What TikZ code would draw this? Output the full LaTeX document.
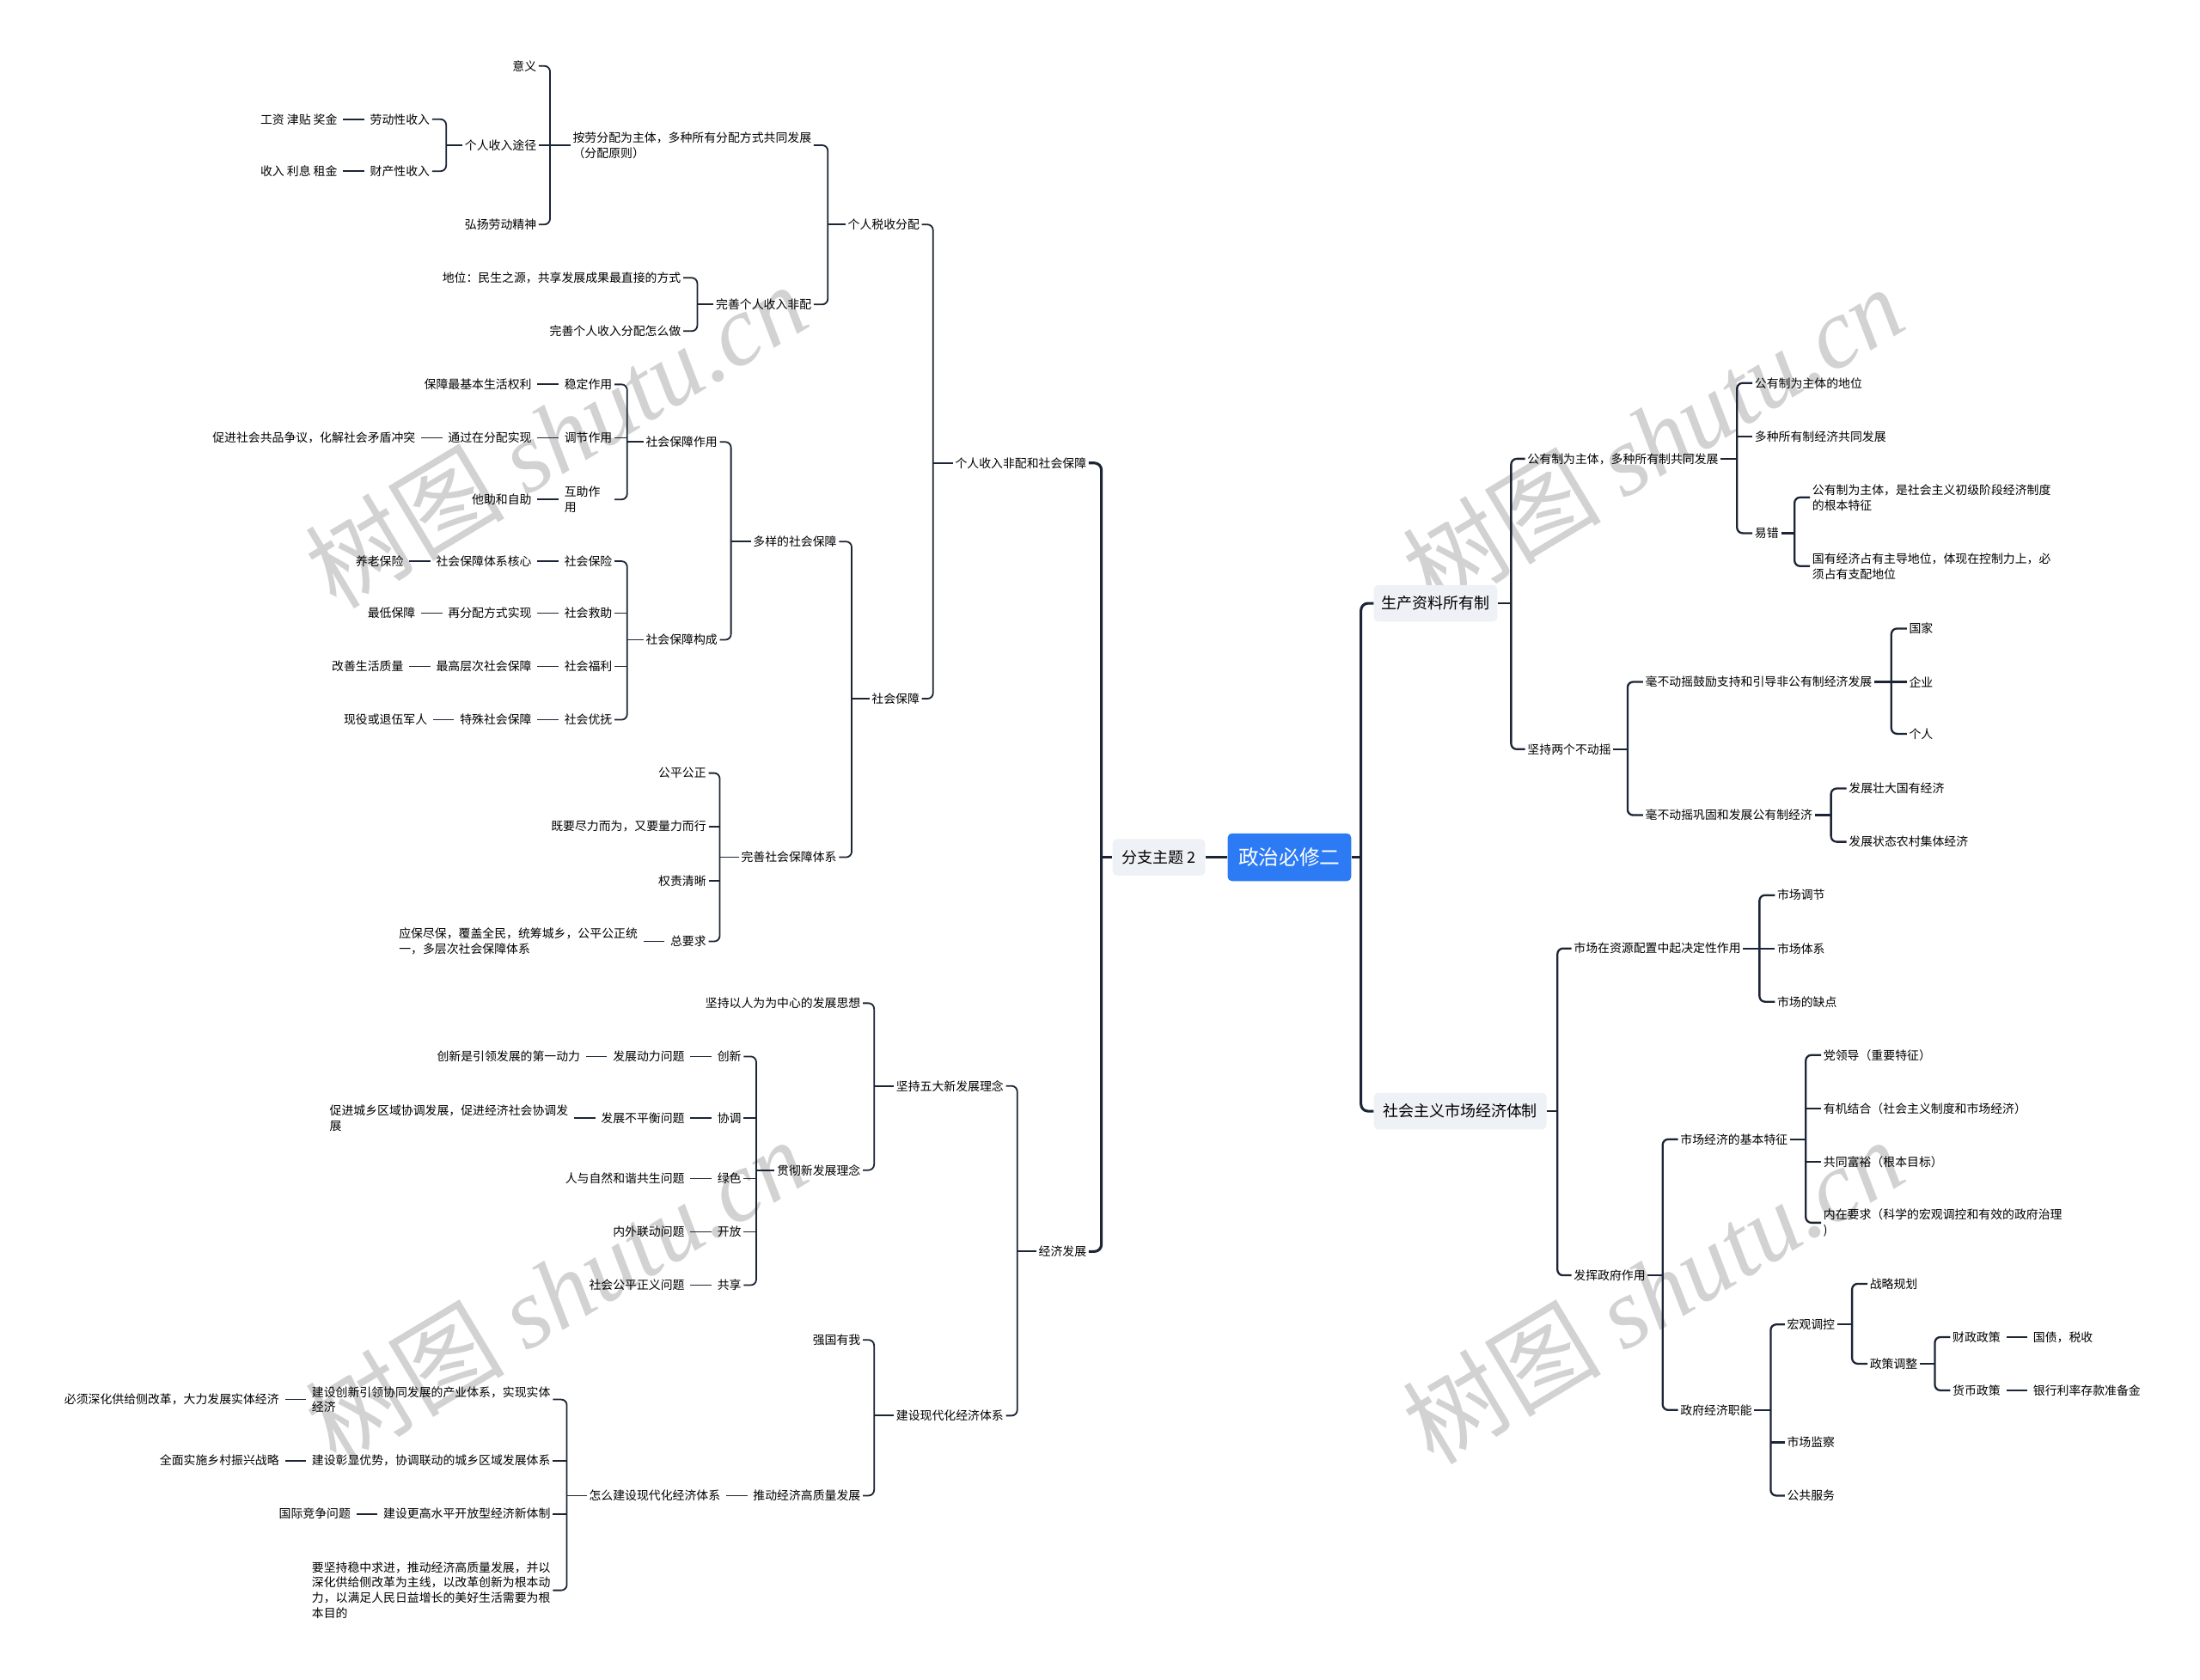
\documentclass[tikz,border=0pt]{standalone}
\usepackage{fontspec}
\setmainfont{Noto Sans CJK SC}
\newfontfamily\wmfont{Liberation Serif}
\usetikzlibrary{positioning}
\definecolor{ln}{HTML}{1B2535}
\definecolor{rootblue}{HTML}{2D7BF4}
\definecolor{boxgray}{HTML}{EEF1F5}
\definecolor{wmgray}{HTML}{D2D2D2}
\newcommand{\LB}[4]{%
  \draw[cleft] (#1.west) -- (#1.west -| #2,0);
  \draw[cleft,rounded corners=4pt] (#3.east) -| (#2,0 |- #4.east) -- (#4.east);}
\newcommand{\LM}[2]{\draw[cleft] (#2.east) -- (#1,0 |- #2.east);}
\newcommand{\RB}[4]{%
  \draw[cright] (#1.east) -- (#1.east -| #2,0);
  \draw[cright,rounded corners=4pt] (#3.west) -| (#2,0 |- #4.west) -- (#4.west);}
\newcommand{\RM}[2]{\draw[cright] (#2.west) -- (#1,0 |- #2.west);}
\newcommand{\LC}[2]{\draw[cleft,shorten <=2.5pt,shorten >=2.5pt] (#1.west) -- (#2.east);}
\newcommand{\RC}[2]{\draw[cright,shorten <=2.5pt,shorten >=2.5pt] (#1.east) -- (#2.west);}
\begin{document}
\begin{tikzpicture}[x=1pt,y=-1pt,
  txt/.style={font=\fontsize{8.5}{11}\selectfont, inner sep=1.5pt, align=left, text=black},
  le/.style={txt, anchor=east},
  ri/.style={txt, anchor=west},
  cleft/.style={draw=ln, line width=1.1pt},
  cright/.style={draw=ln, line width=1.4pt},
  ctrunk/.style={draw=ln, line width=1.9pt},
  gbox/.style={fill=boxgray, rounded corners=3pt, font=\fontsize{11}{13}\selectfont, inner sep=0pt, minimum height=26pt},
  rootbox/.style={fill=rootblue, rounded corners=3pt, text=white, font=\fontsize{14.5}{16}\selectfont, inner sep=0pt, minimum width=88pt, minimum height=34pt},
  wmark/.style={text=wmgray, font=\fontsize{71}{75}\selectfont, rotate=31, inner sep=0pt}]
\fill[white] (0,0) rectangle (1568,1197);
\useasboundingbox (0,0) rectangle (1568,1197);
% watermarks
\node[wmark] (w1) at (396,310) {树图 {\wmfont\itshape shutu.cn}};
\node[wmark] (w2) at (396,920) {树图 {\wmfont\itshape shutu.cn}};
\node[wmark] (w3) at (1178,312) {树图 {\wmfont\itshape shutu.cn}};
\node[wmark] (w4) at (1178,920) {树图 {\wmfont\itshape shutu.cn}};

% centre
\node[rootbox] (R) at (919,611) {政治必修二};
\node[gbox, minimum width=66pt] (B) at (826,611) {分支主题 2};
\node[gbox, anchor=west, minimum width=88pt] (C) at (979,430) {生产资料所有制};
\node[gbox, anchor=west, minimum width=123pt] (D) at (979,792) {社会主义市场经济体制};
\draw[ctrunk] (B.east) -- (R.west);

% ---------- left tree ----------
\node[le] (L1) at (776,330) {个人收入非配和社会保障};
\node[le] (L2) at (776,892) {经济发展};
\draw[ctrunk] (B.west) -- (B.west -| 785,0);
\draw[ctrunk,rounded corners=5pt] (L1.east) -| (785,0 |- L2.east) -- (L2.east);

\node[le] (A1) at (657,160) {个人税收分配};
\node[le] (A2) at (657,498) {社会保障};
\LB{L1}{665}{A1}{A2}

\node[le] (A11) at (580,103.5) {按劳分配为主体，多种所有分配方式共同发展\\（分配原则）};
\node[le] (A12) at (580,217) {完善个人收入非配};
\LB{A1}{590}{A11}{A12}

\node[le] (A111) at (384,47) {意义};
\node[le] (A112) at (384,103.5) {个人收入途径};
\node[le] (A113) at (384,160) {弘扬劳动精神};
\LB{A11}{392}{A111}{A113}
\LM{392}{A112}

\node[le] (A1121) at (308,85) {劳动性收入};
\node[le] (A1122) at (308,122) {财产性收入};
\LB{A112}{318}{A1121}{A1122}
\node[le, left=20pt of A1121] (A11211) {工资 津贴 奖金};
\node[le, left=20pt of A1122] (A11221) {收入 利息 租金};
\LC{A1121}{A11211}
\LC{A1122}{A11221}

\node[le] (A121) at (487,198) {地位：民生之源，共享发展成果最直接的方式};
\node[le] (A122) at (487,236) {完善个人收入分配怎么做};
\LB{A12}{497}{A121}{A122}

\node[le] (A21) at (598,386) {多样的社会保障};
\node[le] (A22) at (598,611) {完善社会保障体系};
\LB{A2}{607}{A21}{A22}

\node[le] (A211) at (513,315) {社会保障作用};
\node[le] (A212) at (513,456) {社会保障构成};
\LB{A21}{521}{A211}{A212}

\node[le] (A2111) at (438,274) {稳定作用};
\node[le] (A2112) at (438,312) {调节作用};
\node[le, text width=34pt] (A2113) at (438,356) {互助作\\用};
\LB{A211}{447}{A2111}{A2113}
\LM{447}{A2112}
\node[le, left=20pt of A2111] (A21111) {保障最基本生活权利};
\node[le, left=20pt of A2112] (A21121) {通过在分配实现};
\node[le, left=20pt of A21121] (A211211) {促进社会共品争议，化解社会矛盾冲突};
\node[le, left=20pt of A2113] (A21131) {他助和自助};
\LC{A2111}{A21111}
\LC{A2112}{A21121}
\LC{A21121}{A211211}
\LC{A2113}{A21131}

\node[le] (A2121) at (438,400) {社会保险};
\node[le] (A2122) at (438,437) {社会救助};
\node[le] (A2123) at (438,475) {社会福利};
\node[le] (A2124) at (438,513) {社会优抚};
\LB{A212}{447}{A2121}{A2124}
\LM{447}{A2122}
\LM{447}{A2123}
\node[le, left=20pt of A2121] (A21211) {社会保障体系核心};
\node[le, left=20pt of A21211] (A212111) {养老保险};
\node[le, left=20pt of A2122] (A21221) {再分配方式实现};
\node[le, left=20pt of A21221] (A212211) {最低保障};
\node[le, left=20pt of A2123] (A21231) {最高层次社会保障};
\node[le, left=20pt of A21231] (A212311) {改善生活质量};
\node[le, left=20pt of A2124] (A21241) {特殊社会保障};
\node[le, left=20pt of A21241] (A212411) {现役或退伍军人};
\LC{A2121}{A21211}
\LC{A21211}{A212111}
\LC{A2122}{A21221}
\LC{A21221}{A212211}
\LC{A2123}{A21231}
\LC{A21231}{A212311}
\LC{A2124}{A21241}
\LC{A21241}{A212411}

\node[le] (A221) at (505,551) {公平公正};
\node[le] (A222) at (505,589) {既要尽力而为，又要量力而行};
\node[le] (A223) at (505,628) {权责清晰};
\node[le] (A224) at (505,671) {总要求};
\LB{A22}{513}{A221}{A224}
\LM{513}{A222}
\LM{513}{A223}
\node[le, left=20pt of A224] (A2241) {应保尽保，覆盖全民，统筹城乡，公平公正统\\一，多层次社会保障体系};
\LC{A224}{A2241}

\node[le] (B1) at (717,774) {坚持五大新发展理念};
\node[le] (B2) at (717,1009) {建设现代化经济体系};
\LB{L2}{725}{B1}{B2}

\node[le] (B11) at (615,715) {坚持以人为为中心的发展思想};
\node[le] (B12) at (615,834) {贯彻新发展理念};
\LB{B1}{623}{B11}{B12}

\node[le] (B121) at (530,753) {创新};
\node[le] (B122) at (530,797) {协调};
\node[le] (B123) at (530,840) {绿色};
\node[le] (B124) at (530,878) {开放};
\node[le] (B125) at (530,916) {共享};
\LB{B12}{539}{B121}{B125}
\LM{539}{B122}
\LM{539}{B123}
\LM{539}{B124}
\node[le, left=20pt of B121] (B1211) {发展动力问题};
\node[le, left=20pt of B1211] (B12111) {创新是引领发展的第一动力};
\node[le, left=20pt of B122] (B1221) {发展不平衡问题};
\node[le, left=20pt of B1221] (B12211) {促进城乡区域协调发展，促进经济社会协调发\\展};
\node[le, left=20pt of B123] (B1231) {人与自然和谐共生问题};
\node[le, left=20pt of B124] (B1241) {内外联动问题};
\node[le, left=20pt of B125] (B1251) {社会公平正义问题};
\LC{B121}{B1211}
\LC{B1211}{B12111}
\LC{B122}{B1221}
\LC{B1221}{B12211}
\LC{B123}{B1231}
\LC{B124}{B1241}
\LC{B125}{B1251}

\node[le] (B21) at (615,955) {强国有我};
\node[le] (B22) at (615,1066) {推动经济高质量发展};
\LB{B2}{623}{B21}{B22}
\node[le, left=20pt of B22] (B221) {怎么建设现代化经济体系};
\LC{B22}{B221}

\node[le] (K1) at (394,997.5) {建设创新引领协同发展的产业体系，实现实体\\经济};
\node[le] (K2) at (394,1041) {建设彰显优势，协调联动的城乡区域发展体系};
\node[le] (K3) at (394,1079) {建设更高水平开放型经济新体制};
\node[le] (K4) at (394,1133.5) {要坚持稳中求进，推动经济高质量发展，并以\\深化供给侧改革为主线，以改革创新为根本动\\力，以满足人民日益增长的美好生活需要为根\\本目的};
\LB{B221}{404}{K1}{K4}
\LM{404}{K2}
\LM{404}{K3}
\node[le, left=20pt of K1] (K11) {必须深化供给侧改革，大力发展实体经济};
\node[le, left=20pt of K2] (K21) {全面实施乡村振兴战略};
\node[le, left=20pt of K3] (K31) {国际竞争问题};
\LC{K1}{K11}
\LC{K2}{K21}
\LC{K3}{K31}

% ---------- right tree ----------
\draw[ctrunk] (R.east) -- (R.east -| 970,0);
\draw[ctrunk,rounded corners=5pt] (C.west) -| (970,0 |- D.west) -- (D.west);

\node[ri] (C1) at (1087,327) {公有制为主体，多种所有制共同发展};
\node[ri] (C2) at (1087,534) {坚持两个不动摇};
\RB{C}{1077}{C1}{C2}

\node[ri] (C11) at (1249,273) {公有制为主体的地位};
\node[ri] (C12) at (1249,311) {多种所有制经济共同发展};
\node[ri] (C13) at (1249,380) {易错};
\RB{C1}{1238}{C11}{C13}
\RM{1238}{C12}

\node[ri] (C131) at (1290,354.5) {公有制为主体，是社会主义初级阶段经济制度\\的根本特征};
\node[ri] (C132) at (1290,403.5) {国有经济占有主导地位，体现在控制力上，必\\须占有支配地位};
\RB{C13}{1279}{C131}{C132}

\node[ri] (C21) at (1171,486) {毫不动摇鼓励支持和引导非公有制经济发展};
\node[ri] (C22) at (1171,581) {毫不动摇巩固和发展公有制经济};
\RB{C2}{1160}{C21}{C22}

\node[ri] (C211) at (1359,448) {国家};
\node[ri] (C212) at (1359,486) {企业};
\node[ri] (C213) at (1359,523) {个人};
\RB{C21}{1348}{C211}{C213}
\RM{1348}{C212}

\node[ri] (C221) at (1316,562) {发展壮大国有经济};
\node[ri] (C222) at (1316,600) {发展状态农村集体经济};
\RB{C22}{1305}{C221}{C222}

\node[ri] (D1) at (1120,676) {市场在资源配置中起决定性作用};
\node[ri] (D2) at (1120,909) {发挥政府作用};
\RB{D}{1110}{D1}{D2}

\node[ri] (D11) at (1265,638) {市场调节};
\node[ri] (D12) at (1265,676) {市场体系};
\node[ri] (D13) at (1265,714) {市场的缺点};
\RB{D1}{1254}{D11}{D13}
\RM{1254}{D12}

\node[ri] (D21) at (1196,812) {市场经济的基本特征};
\node[ri] (D22) at (1196,1005) {政府经济职能};
\RB{D2}{1185}{D21}{D22}

\node[ri] (D211) at (1298,752) {党领导（重要特征）};
\node[ri] (D212) at (1298,790) {有机结合（社会主义制度和市场经济）};
\node[ri] (D213) at (1298,828) {共同富裕（根本目标）};
\node[ri] (D214) at (1298,871.5) {内在要求（科学的宏观调控和有效的政府治理\\{)}};
\RB{D21}{1287}{D211}{D214}
\RM{1287}{D212}
\RM{1287}{D213}

\node[ri] (D221) at (1272,944) {宏观调控};
\node[ri] (D222) at (1272,1028) {市场监察};
\node[ri] (D223) at (1272,1066) {公共服务};
\RB{D22}{1262}{D221}{D223}
\RM{1262}{D222}

\node[ri] (D2211) at (1331,915) {战略规划};
\node[ri] (D2212) at (1331,972) {政策调整};
\RB{D221}{1320}{D2211}{D2212}

\node[ri] (E1) at (1390,953) {财政政策};
\node[ri] (E2) at (1390,991) {货币政策};
\RB{D2212}{1379}{E1}{E2}
\node[ri, right=20pt of E1] (E11) {国债，税收};
\node[ri, right=20pt of E2] (E21) {银行利率存款准备金};
\RC{E1}{E11}
\RC{E2}{E21}
\end{tikzpicture}
\end{document}
